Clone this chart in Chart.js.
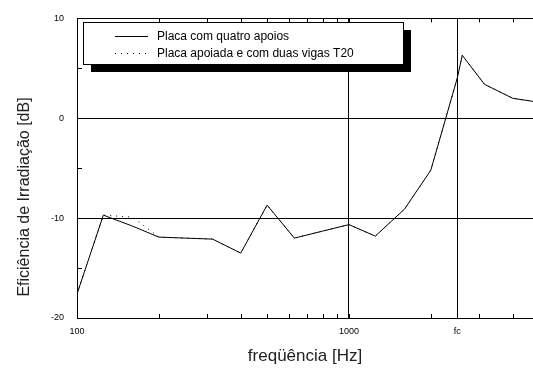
<!DOCTYPE html>
<html>
<head>
<meta charset="utf-8">
<script src="https://cdn.jsdelivr.net/npm/chart.js@4"></script>
<style>
  body { margin: 0; background: #fff; }
  canvas { display: block; }
</style>
</head>
<body>
<canvas id="irradiacao" width="533" height="371"></canvas>
<script>
// frequencias (Hz) e eficiencia de irradiacao (dB)
const freqs = [100, 125, 160, 200, 250, 315, 400, 500, 630, 800, 1000, 1250, 1600, 2000, 2500, 2610, 3150, 4000, 5000];
const quatroApoios = [-17.6, -9.7, -10.8, -11.9, -12.0, -12.1, -13.5, -8.7, -12.0, -11.3, -10.65, -11.8, -9.1, -5.2, 4.0, 6.3, 3.4, 2.0, 1.6];
const duasVigas = [-17.6, -9.7, -9.9, -11.9, -12.0, -12.1, -13.5, -8.7, -12.0, -11.3, -10.65, -11.8, -9.1, -5.2, 4.0, 6.3, 3.4, 2.0, 1.6];

const fc = 2500;
const xTicks = [100, 200, 300, 400, 500, 600, 700, 800, 900, 1000, 2000, fc, 3000, 4000];
const xLabels = { 100: '100', 1000: '1000', [fc]: 'fc' };
const yTicks = [-20, -15, -10, -5, 0, 5, 10];
const xGrid = [1000, fc];
const yGrid = [0, -10];

const toPoints = ys => freqs.map((f, i) => ({ x: f, y: ys[i] }));

// tracinhos para dentro nos eixos
const innerTicks = {
  id: 'innerTicks',
  afterDraw(chart) {
    const { ctx, chartArea: a, scales } = chart;
    ctx.save();
    ctx.strokeStyle = '#000';
    ctx.lineWidth = 1;
    ctx.beginPath();
    xTicks.forEach(v => {
      const px = Math.round(scales.x.getPixelForValue(v)) + 0.5;
      ctx.moveTo(px, a.bottom); ctx.lineTo(px, a.bottom - 4);
      ctx.moveTo(px, a.top); ctx.lineTo(px, a.top + 4);
    });
    yTicks.forEach(v => {
      const py = Math.round(scales.y.getPixelForValue(v)) + 0.5;
      ctx.moveTo(a.left, py); ctx.lineTo(a.left + 5, py);
    });
    ctx.stroke();
    ctx.restore();
  }
};

// titulo do eixo y
const yTitle = {
  id: 'yTitle',
  afterDraw(chart) {
    const ctx = chart.ctx;
    ctx.save();
    ctx.translate(25, 197);
    ctx.rotate(-Math.PI / 2);
    ctx.font = '16px "Liberation Sans", Arial, sans-serif';
    ctx.fillStyle = '#222';
    ctx.textAlign = 'center';
    ctx.textBaseline = 'middle';
    ctx.fillText('Eficiência de Irradiação [dB]', 0, 0);
    ctx.restore();
  }
};

// legenda com sombra (linha cheia primeiro)
const boxLegend = {
  id: 'boxLegend',
  afterDraw(chart) {
    const ctx = chart.ctx;
    const x = 83, y = 22, w = 320, h = 42;
    ctx.save();
    ctx.fillStyle = '#000';
    ctx.fillRect(x + 8, y + 8, w, h);
    ctx.fillStyle = '#fff';
    ctx.fillRect(x, y, w, h);
    ctx.strokeStyle = '#000';
    ctx.lineWidth = 1;
    ctx.strokeRect(x + 0.5, y + 0.5, w, h);
    ctx.font = '12px "Liberation Sans", Arial, sans-serif';
    ctx.textBaseline = 'middle';
    chart.data.datasets.slice().reverse().forEach((ds, i) => {
      const ly = y + 14 + i * 17 + 0.5;
      ctx.beginPath();
      ctx.setLineDash(ds.borderDash || []);
      ctx.strokeStyle = ds.borderColor;
      ctx.moveTo(115, ly);
      ctx.lineTo(148, ly);
      ctx.stroke();
      ctx.setLineDash([]);
      ctx.fillStyle = '#000';
      ctx.fillText(ds.label, 157, ly);
    });
    ctx.restore();
  }
};

const tickFont = { family: '"Liberation Sans", Arial, sans-serif', size: 9 };

new Chart(document.getElementById('irradiacao'), {
  type: 'line',
  data: {
    datasets: [
      {
        label: 'Placa apoiada e com duas vigas T20',
        data: toPoints(duasVigas),
        borderColor: '#000',
        borderWidth: 1,
        borderDash: [1, 5],
        pointRadius: 0,
        tension: 0
      },
      {
        label: 'Placa com quatro apoios',
        data: toPoints(quatroApoios),
        borderColor: '#000',
        borderWidth: 1,
        pointRadius: 0,
        tension: 0
      }
    ]
  },
  options: {
    responsive: false,
    devicePixelRatio: 1,
    animation: false,
    layout: { padding: 0 },
    plugins: {
      legend: { display: false },
      tooltip: { enabled: false }
    },
    scales: {
      x: {
        type: 'logarithmic',
        position: 'bottom',
        min: 100,
        max: 4750,
        afterBuildTicks: s => { s.ticks = xTicks.map(v => ({ value: v })); },
        afterFit: s => { s.height = 53; },
        ticks: {
          autoSkip: false,
          maxRotation: 0,
          padding: 8,
          color: '#000',
          font: tickFont,
          callback: v => xLabels[v] || ''
        },
        grid: {
          drawTicks: false,
          color: c => (c.tick && xGrid.includes(c.tick.value)) ? '#000' : 'rgba(0,0,0,0)'
        },
        border: { color: '#000', width: 1 },
        title: {
          display: true,
          text: 'freqüência [Hz]',
          color: '#222',
          font: { family: '"Liberation Sans", Arial, sans-serif', size: 17 },
          padding: { top: 0, bottom: 4 }
        }
      },
      xTop: {
        type: 'logarithmic',
        position: 'top',
        min: 100,
        max: 4750,
        afterFit: s => { s.height = 16; },
        ticks: { display: false },
        grid: { display: false },
        border: { color: '#000', width: 1 }
      },
      y: {
        min: -20,
        max: 10,
        afterBuildTicks: s => { s.ticks = yTicks.map(v => ({ value: v })); },
        afterFit: s => { s.width = 77; },
        ticks: {
          padding: 13,
          color: '#000',
          font: tickFont,
          callback: v => (v % 10 === 0 ? String(v) : '')
        },
        grid: {
          drawTicks: false,
          color: c => (c.tick && yGrid.includes(c.tick.value)) ? '#000' : 'rgba(0,0,0,0)'
        },
        border: { color: '#000', width: 1 }
      }
    }
  },
  plugins: [innerTicks, yTitle, boxLegend]
});
</script>
</body>
</html>
